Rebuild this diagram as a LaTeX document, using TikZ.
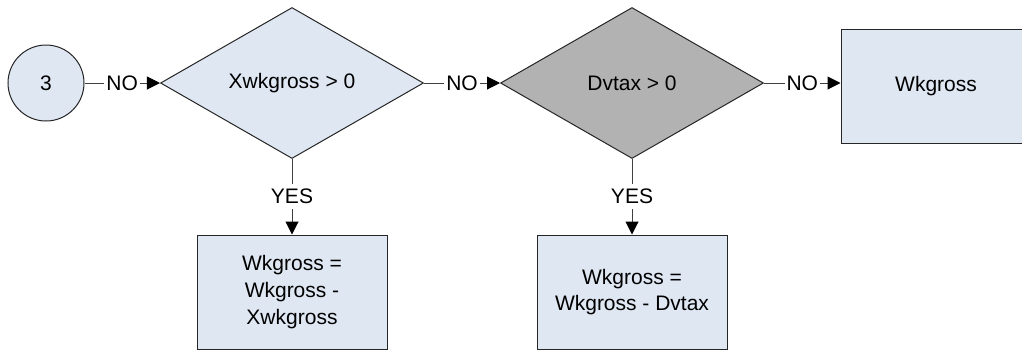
\documentclass[tikz,border=0pt]{standalone}
\usepackage{fontspec}
\setmainfont{Liberation Sans}
\usepackage{xcolor}
\usepackage{tikz}
\usetikzlibrary{arrows.meta,positioning,shapes.geometric}
\definecolor{flowfill}{RGB}{223,231,243}
\definecolor{flowgrey}{RGB}{178,178,178}
\tikzset{
  flow-terminal/.style={circle, draw=black!85, fill=flowfill, line width=0.5pt,
    minimum size=38pt, inner sep=0pt, font=\fontsize{10.5}{13.3}\selectfont},
  flow-decision/.style={diamond, aspect=1.74, draw=black!85, fill=flowfill, line width=0.5pt,
    minimum width=131.5pt, minimum height=75.5pt, inner sep=1pt, font=\fontsize{10.5}{13.3}\selectfont},
  flow-process/.style={rectangle, draw=black!85, fill=flowfill, line width=0.5pt,
    minimum width=95pt, minimum height=57pt, align=center, font=\fontsize{10.5}{13.3}\selectfont},
  flow-link/.style={-{Triangle[length=6.5pt,width=6.5pt,black]}, draw=black!75, line width=0.5pt},
  flow-label/.style={fill=white, inner xsep=1pt, inner ysep=2.5pt, text=black,
    font=\fontsize{10.5}{13.3}\selectfont}
}

\begin{document}
\begin{tikzpicture}[x=0.5pt, y=-0.5pt]
  \useasboundingbox (0,0) rectangle (1022,350);

  % Entry point and the two tests
  \node[flow-terminal] (c3) at (46,83) {3};
  \node[flow-decision] (xwk) at (292,83) {Xwkgross > 0};
  \node[flow-decision, fill=flowgrey] (dvt) at (632,83) {Dvtax > 0};

  % Results
  \node[flow-process] (wk) at (936,86) {Wkgross};
  \node[flow-process] (wkx) at (292,292) {Wkgross =\\Wkgross -\\Xwkgross};
  \node[flow-process] (wkd) at (632,292) {Wkgross =\\Wkgross - Dvtax};

  % NO branches
  \draw[flow-link] (c3) -- node[flow-label] {NO} (xwk);
  \draw[flow-link] (xwk) -- node[flow-label] {NO} (dvt);
  \draw[flow-link] (dvt.east) -- node[flow-label] {NO} (dvt.east -| wk.west);

  % YES branches
  \draw[flow-link] (xwk) -- node[flow-label] {YES} (wkx);
  \draw[flow-link] (dvt) -- node[flow-label] {YES} (wkd);
\end{tikzpicture}
\end{document}
